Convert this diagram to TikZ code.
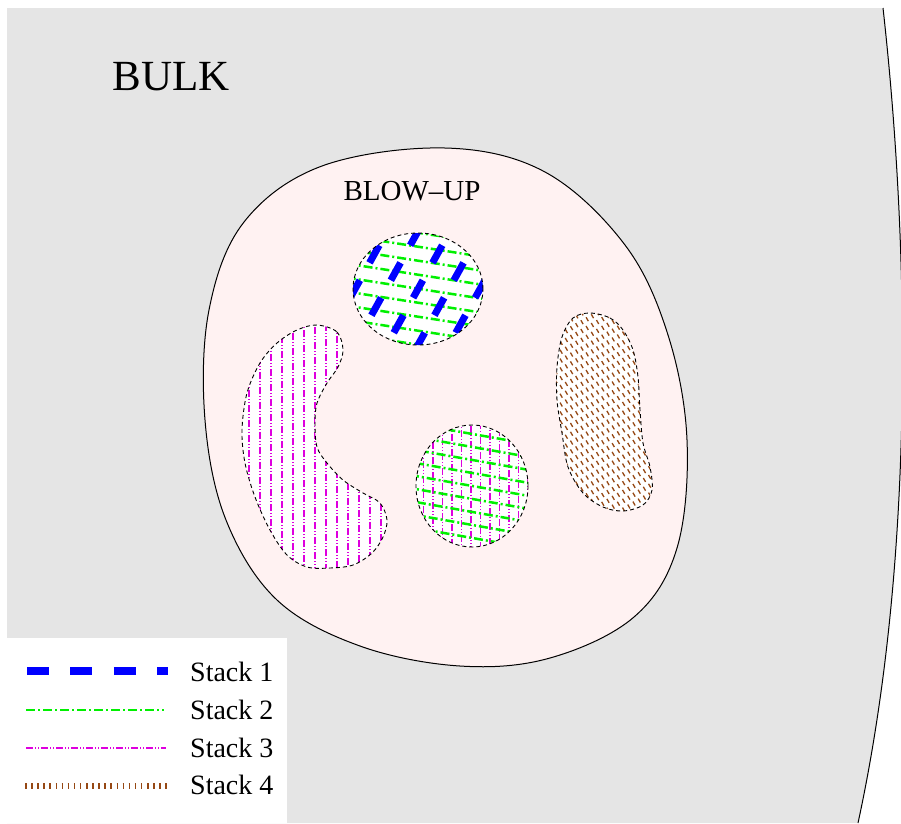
\documentclass[tikz,border=0pt]{standalone}
\usepackage{fontspec}
\setmainfont{Liberation Serif}
\definecolor{bulkgray}{RGB}{229,229,229}
\definecolor{blowpink}{RGB}{255,242,242}
\definecolor{stkblue}{RGB}{0,0,255}
\definecolor{stkgreen}{RGB}{0,240,0}
\definecolor{stkmag}{RGB}{222,0,222}
\definecolor{stkbrown}{RGB}{150,72,20}
\tikzset{
  stackone/.style={stkblue, line width=8pt, dash pattern=on 21.7pt off 21.7pt},
  stackonefill/.style={stkblue, line width=7pt, dash pattern=on 20pt off 20pt},
  stacktwo/.style={stkgreen, line width=2.5pt, dash pattern=on 9pt off 3pt on 2pt off 3pt},
  stackthree/.style={stkmag, line width=1.5pt, dash pattern=on 7pt off 2pt on 1pt off 2pt on 1pt off 2pt},
  stackfour/.style={stkbrown, line width=6pt, dash pattern=on 1.5pt off 4.6pt},
  stackfourfill/.style={stkbrown, line width=4.5pt, dash pattern=on 1.3pt off 4.7pt},
  outl/.style={black, line width=0.9pt, dash pattern=on 4pt off 3pt},
  legtext/.style={font=\fontsize{28}{32}\selectfont, inner sep=0pt, anchor=base west},
}
\newcommand\blowP{plot[smooth cycle, tension=0.6] coordinates {(445,148) (545,172) (625,245) (668,335) (687,440) (677,548) (634,617) (550,658) (460,666) (360,646) (277,600) (226,520) (205,420) (209,310) (244,222) (322,166)}}
\newcommand\kidneyP{plot[smooth cycle, tension=0.55] coordinates {(317,325) (337,332) (343,350) (338,367) (327,383) (317,403) (315,423) (317,447) (327,463) (343,480) (363,493) (380,503) (387,520) (383,537) (372,553) (353,565) (330,568) (307,567) (287,555) (270,530) (255,497) (245,463) (242,430) (247,393) (260,363) (277,343) (297,330)}}
\newcommand\rblobP{plot[smooth cycle, tension=0.55] coordinates {(590,313) (610,318) (623,330) (633,350) (638,377) (640,410) (643,443) (650,467) (652,490) (643,505) (623,511) (603,507) (583,493) (568,467) (562,433) (557,400) (557,367) (562,337) (573,318)}}
\newcommand\topovalP{(418,289) ellipse [x radius=65pt, y radius=56pt]}
\newcommand\midovalP{(472,486) ellipse [x radius=56pt, y radius=61pt]}
\begin{document}
\begin{tikzpicture}[x=1pt, y=-1pt]
\useasboundingbox (0,0) rectangle (901,823);
\clip (0,0) rectangle (901,823);
\fill[white] (0,0) rectangle (901,823);
% bulk region
\coordinate (btl) at (7,8);
\coordinate (btr) at (883,8);
\coordinate (bbr) at (858,823);
\coordinate (bbl) at (7,823);
\fill[bulkgray] (btl) -- (btr) .. controls (910,250) and (915,560) .. (bbr) -- (bbl) -- cycle;
\draw[black, line width=1pt] (btr) .. controls (910,250) and (915,560) .. (bbr);
% legend box
\fill[white] (0,638) rectangle (287,823);
% blow-up
\fill[blowpink] \blowP;
\draw[black, line width=1pt] \blowP;
% top oval: stacks 1 and 2
\begin{scope}
  \clip \topovalP;
  \fill[white] \topovalP;
  \foreach \k in {-6,...,6} {
    \draw[stacktwo] (330,{289+14*\k-14}) -- (510,{289+14*\k+14});
  }
  \foreach \xc/\ph in {324/30, 355/10, 386/30, 418/10, 449/30, 480/10} {
    \draw[stackonefill, dash phase=\ph] ({\xc-38.8},{289+70}) -- ({\xc+38.8},{289-70});
  }
\end{scope}
\draw[outl] \topovalP;
% middle oval: stacks 2 and 3
\begin{scope}
  \clip \midovalP;
  \fill[white] \midovalP;
  \foreach \k in {0,...,13} {
    \draw[stackthree, dash phase={4*\k}] ({414+9.5*\k},420) -- ({414+9.5*\k},552);
  }
  \foreach \k in {-6,...,6} {
    \draw[stacktwo, dash phase={5*\k}] (410,{486+13*\k-11}) -- (535,{486+13*\k+11});
  }
\end{scope}
\draw[outl] \midovalP;
% kidney: stack 3
\begin{scope}
  \clip \kidneyP;
  \fill[white] \kidneyP;
  \foreach \k in {0,...,14} {
    \draw[stackthree, dash phase={3*\k}] ({238+11*\k},318) -- ({238+11*\k},575);
  }
\end{scope}
\draw[outl] \kidneyP;
% right blob: stack 4
\begin{scope}
  \clip \rblobP;
  \fill[white] \rblobP;
  \foreach \k in {0,...,33} {
    \draw[stackfourfill] (545,{285+8.8*\k+32}) -- (660,{285+8.8*\k-34});
  }
\end{scope}
\draw[outl] \rblobP;
% labels
\node[font=\fontsize{43}{50}\selectfont, inner sep=0pt, anchor=base] (bulk) at (171.5,90) {BULK};
\node[font=\fontsize{29}{34}\selectfont, inner sep=0pt, anchor=base] (blowup) at (412,200) {BLOW--UP};
% legend
\coordinate (l1a) at (27,671);  \coordinate (l1b) at (168,671);
\coordinate (l2a) at (26,710);  \coordinate (l2b) at (164,710);
\coordinate (l3a) at (26,748);  \coordinate (l3b) at (166,748);
\coordinate (l4a) at (25,786);  \coordinate (l4b) at (167,786);
\draw[stackone] (l1a) -- (l1b);
\draw[stacktwo] (l2a) -- (l2b);
\draw[stackthree] (l3a) -- (l3b);
\draw[stackfour] (l4a) -- (l4b);
\node[legtext] (s1) at (190,681) {Stack 1};
\node[legtext] (s2) at (190,719) {Stack 2};
\node[legtext] (s3) at (190,757) {Stack 3};
\node[legtext] (s4) at (190,794) {Stack 4};
\end{tikzpicture}
\end{document}
